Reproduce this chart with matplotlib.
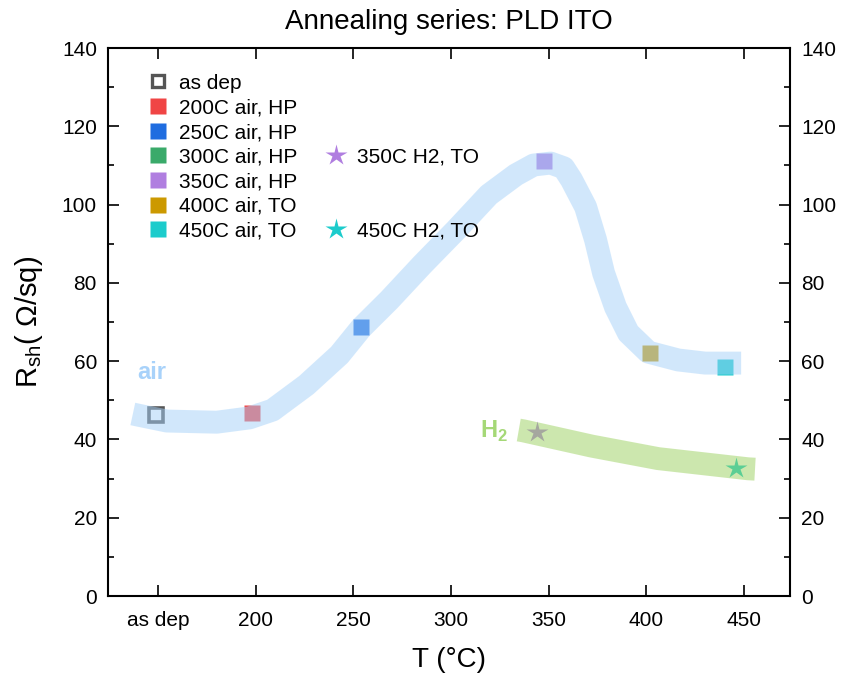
import matplotlib
matplotlib.use("Agg")
import matplotlib.pyplot as plt
from matplotlib.lines import Line2D
from matplotlib.ticker import MultipleLocator

plt.rcParams['font.family'] = ['Liberation Sans', 'DejaVu Sans']
plt.rcParams['mathtext.fontset'] = 'custom'
plt.rcParams['mathtext.rm'] = 'Liberation Sans'
plt.rcParams['mathtext.bf'] = 'Liberation Sans:bold'

# ---- data ----
tick_pos = [150, 200, 250, 300, 350, 400, 450]
tick_labels = ["as dep", "200", "250", "300", "350", "400", "450"]

air_labels = ["as dep", "200C air, HP", "250C air, HP", "300C air, HP",
              "350C air, HP", "400C air, TO", "450C air, TO"]
air_colors = ["#555555", "#f04545", "#1f6de0", "#3aaa6a", "#b07ee0", "#cc9900", "#1ccccc"]
air_x = [149, 198, 254, None, 347.5, 402, 440]
air_y = [46.3, 46.8, 68.6, None, 111.2, 62.2, 58.4]

h2_labels = ["350C H2, TO", "450C H2, TO"]
h2_colors = ["#b07ee0", "#1ccccc"]
h2_x = [344, 446]
h2_y = [42.0, 32.6]

air_band_x = [137.2, 140.0, 154.6, 180.1, 196.9, 208.7, 226.0, 242.9, 254.1, 268.4, 285.2,
              302.6, 319.4, 333.2, 342.3, 351.0, 357.7, 361.7, 368.9, 374.0, 378.1,
              384.2, 390.8, 401.0, 416.3, 430.1, 445.0, 448.5]
air_band_y = [46.5, 46.2, 44.7, 44.4, 45.5, 47.5, 53.9, 61.6, 68.5, 75.6, 84.6,
              93.5, 102.5, 107.6, 110.1, 110.6, 109.4, 106.3, 99.4, 91.0, 82.5,
              73.8, 67.2, 62.3, 60.3, 59.5, 59.5, 59.5]
h2_band_x = [334.7, 337.0, 372.0, 406.0, 452.0, 455.6]
h2_band_y = [42.4, 42.2, 38.3, 35.1, 32.5, 32.4]

fig = plt.figure(figsize=(8.45, 6.79), dpi=100)
ax = fig.add_axes([108/845, 1-596/679, (790-108)/845, (596-48)/679])

# markers
for lab, c, x, y in zip(air_labels, air_colors, air_x, air_y):
    if x is None:
        continue
    if lab == "as dep":
        ax.plot(x, y, 's', ms=10.5, mfc='white', mec=c, mew=2.6, zorder=2)
    else:
        ax.plot(x, y, 's', ms=11, color=c, mec='none', zorder=2)
for c, x, y in zip(h2_colors, h2_x, h2_y):
    ax.plot(x, y, '*', ms=16, color=c, mec='none', zorder=2)

# highlight bands (on top, semi-transparent)
ax.plot(air_band_x, air_band_y, '-', color=(165/255, 209/255, 249/255), alpha=0.5,
        lw=16.5, solid_capstyle='butt', solid_joinstyle='round', zorder=3)
ax.plot(h2_band_x, h2_band_y, '-', color=(155/255, 209/255, 95/255), alpha=0.5,
        lw=16.5, solid_capstyle='butt', solid_joinstyle='round', zorder=3)

ax.text(147, 57, "air", color="#a8d2fa", fontsize=17, fontweight='bold',
        ha='center', va='center')
ax.text(322, 42, "H$_\\mathbf{2}$", color="#a5d877", fontsize=17, fontweight='bold',
        ha='center', va='center')

ax.set_xlim(124.5, 473.5)
ax.set_ylim(0, 140)
ax.set_xticks(tick_pos)
ax.set_xticklabels(tick_labels)
ax.yaxis.set_major_locator(MultipleLocator(20))
ax.yaxis.set_minor_locator(MultipleLocator(10))
ax.tick_params(axis='both', which='major', direction='in', length=8, width=1.2,
               labelsize=15, top=True, right=True, labelright=True, pad=8)
ax.tick_params(axis='x', which='major', pad=11)
ax.tick_params(axis='y', which='minor', direction='in', length=4, width=1.2,
               right=True)
for s in ax.spines.values():
    s.set_linewidth(1.5)

ax.set_xlabel("T (°C)", fontsize=20, labelpad=12)
ax.set_ylabel("R$_{\\mathregular{sh}}$( Ω/sq)", fontsize=21, labelpad=12)
ax.set_title("Annealing series: PLD ITO", fontsize=20, pad=14)

# legend
handles, labels = [], []
for lab, c in zip(air_labels, air_colors):
    if lab == "as dep":
        handles.append(Line2D([], [], ls='none', marker='s', ms=9, mfc='white', mec=c, mew=2.4))
    else:
        handles.append(Line2D([], [], ls='none', marker='s', ms=11, color=c, mec='none'))
    labels.append(lab)
blank = Line2D([], [], ls='none')
col2 = [None, None, None, 0, None, None, 1]
for v in col2:
    if v is None:
        handles.append(blank)
        labels.append("")
    else:
        handles.append(Line2D([], [], ls='none', marker='*', ms=16, color=h2_colors[v], mec='none'))
        labels.append(h2_labels[v])
ax.legend(handles, labels, ncol=2, frameon=False, loc='upper left',
          bbox_to_anchor=(0.045, 0.972), fontsize=15, handlelength=0.9,
          handletextpad=0.55, columnspacing=1.4, labelspacing=0.27, borderpad=0)

fig.savefig("out.png", dpi=100)
